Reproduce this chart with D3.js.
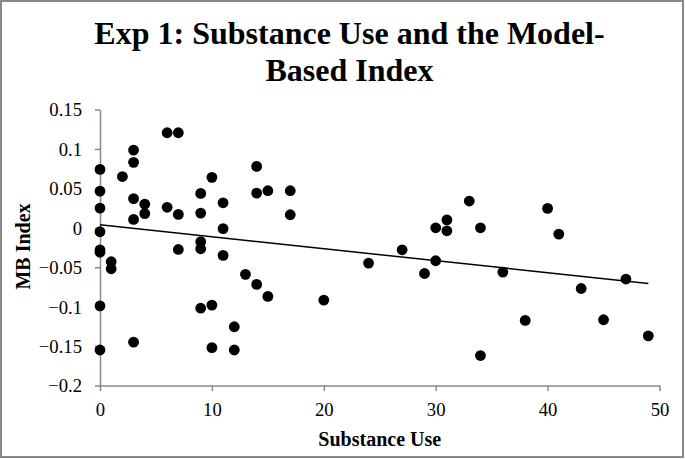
<!DOCTYPE html>
<html>
<head>
<meta charset="utf-8">
<script src="https://cdn.jsdelivr.net/npm/d3@7"></script>
<style>
  html, body { margin: 0; padding: 0; background: #fff; }
  svg { display: block; }
  .tick text { font-family: "Liberation Serif", "Times New Roman", serif; font-size: 18.67px; fill: #000; }
</style>
</head>
<body>
<div id="chart"></div>
<script>
// substance use score per participant
const substanceUse = [
  0, 0, 0, 0, 0, 0, 0, 0,
  1, 1,
  2,
  3, 3, 3, 3, 3,
  4, 4,
  6, 6,
  7, 7, 7,
  9, 9, 9, 9, 9,
  10, 10, 10,
  11, 11, 11,
  12, 12,
  13,
  14, 14, 14,
  15, 15,
  17, 17,
  20, 24, 27, 29,
  30, 30, 31, 31,
  33, 34, 34, 36, 38, 40, 41, 43, 45, 47, 49
];
// model-based index per participant
const mbIndex = [
  0.074, 0.0465, 0.025, -0.005, -0.028, -0.031, -0.099, -0.155,
  -0.043, -0.052,
  0.065,
  0.0985, 0.083, 0.037, 0.0106, -0.145,
  0.030, 0.018,
  0.1205, 0.026,
  0.1205, 0.017, -0.0275,
  0.0436, 0.0186, -0.0177, -0.0266, -0.102,
  0.064, -0.098, -0.152,
  0.0317, -0.001, -0.035,
  -0.1255, -0.155,
  -0.059,
  0.0778, 0.044, -0.0718,
  0.047, -0.087,
  0.047, 0.0165,
  -0.0917, -0.0448, -0.0279, -0.058,
  0.0, -0.0418, 0.0101, -0.0038,
  0.0339, 0.0, -0.162, -0.0562, -0.1175, 0.0246, -0.008, -0.077, -0.1166, -0.065, -0.137
];
// linear trendline end points
const trendX = [0, 49];
const trendY = [0.0038, -0.0705];

const xTicks = [0, 10, 20, 30, 40, 50];
const yTicks = [-0.2, -0.15, -0.1, -0.05, 0, 0.05, 0.1, 0.15];

const titleLines = ['Exp 1: Substance Use and the Model-', 'Based Index'];
const xTitle = 'Substance Use';
const yTitle = 'MB Index';

const W = 685, H = 459;
const serif = '"Liberation Serif", "Times New Roman", serif';
const axisColor = '#898989';

const svg = d3.select('#chart').append('svg').attr('width', W).attr('height', H);

svg.append('rect')
  .attr('x', 1).attr('y', 1).attr('width', W - 3).attr('height', H - 3)
  .attr('fill', '#fff').attr('stroke', axisColor).attr('stroke-width', 2);

const x = d3.scaleLinear().domain([0, 50]).range([100, 659.5]);
const y = d3.scaleLinear().domain([-0.2, 0.15]).range([385.5, 109.5]);

// axes
const fmt = d => d3.format('')(+d.toFixed(2));
const gx = svg.append('g').attr('transform', 'translate(0,' + y(-0.2) + ')')
  .call(d3.axisBottom(x).tickValues(xTicks).tickSize(5.5).tickSizeOuter(0).tickPadding(12).tickFormat(d3.format('d')));
const gy = svg.append('g').attr('transform', 'translate(' + x(0) + ',0)')
  .call(d3.axisLeft(y).tickValues(yTicks).tickSize(5).tickSizeOuter(0).tickPadding(13).tickFormat(fmt));

[gx, gy].forEach(g => {
  g.select('.domain').attr('stroke', axisColor).attr('stroke-width', 1.5);
  g.selectAll('.tick line').attr('stroke', axisColor).attr('stroke-width', 1.5);
  g.selectAll('.tick text').attr('font-family', null).attr('font-size', null);
});
gy.selectAll('.tick text').attr('dy', '0.34em');

// points
svg.append('g').selectAll('circle')
  .data(substanceUse.map((d, i) => [d, mbIndex[i]]))
  .enter().append('circle')
  .attr('cx', d => x(d[0]))
  .attr('cy', d => y(d[1]))
  .attr('r', 5.4)
  .attr('fill', '#000');

// trendline
svg.append('path')
  .datum(trendX.map((d, i) => [d, trendY[i]]))
  .attr('d', d3.line().x(d => x(d[0])).y(d => y(d[1])))
  .attr('stroke', '#000').attr('stroke-width', 1.5).attr('fill', 'none');

// titles
svg.append('text')
  .attr('x', 349.5).attr('y', 43.5)
  .attr('text-anchor', 'middle')
  .attr('font-family', serif).attr('font-weight', 'bold').attr('font-size', 32)
  .selectAll('tspan').data(titleLines).enter().append('tspan')
  .attr('x', 349.5).attr('dy', (d, i) => i === 0 ? 0 : 37)
  .text(d => d);

svg.append('text')
  .attr('x', x(25)).attr('y', 445.5)
  .attr('text-anchor', 'middle')
  .attr('font-family', serif).attr('font-weight', 'bold').attr('font-size', 20)
  .text(xTitle);

svg.append('text')
  .attr('transform', 'translate(30,' + 246.5 + ') rotate(-90)')
  .attr('text-anchor', 'middle')
  .attr('font-family', serif).attr('font-weight', 'bold').attr('font-size', 20)
  .text(yTitle);
</script>
</body>
</html>
